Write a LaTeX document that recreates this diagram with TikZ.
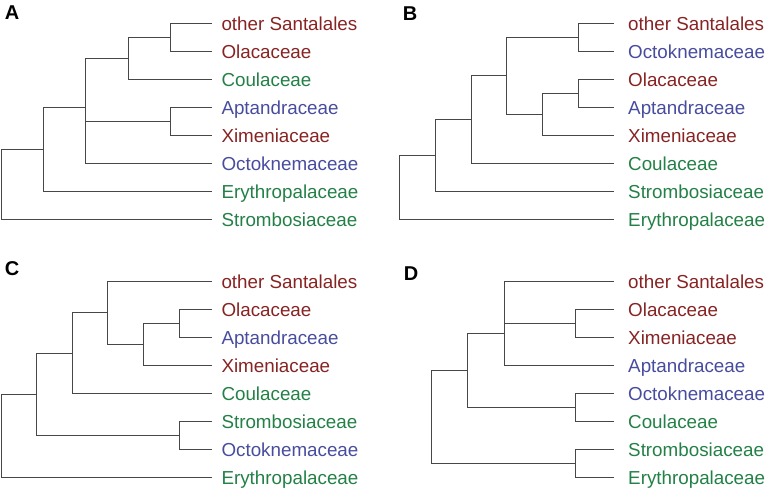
\documentclass[tikz,border=0pt]{standalone}
\usepackage{fontspec}
\setmainfont{Liberation Sans}
\usepackage{tikz}

\definecolor{famred}{RGB}{135,35,35}
\definecolor{famblue}{RGB}{72,76,158}
\definecolor{famgreen}{RGB}{35,128,70}

\begin{document}
\begin{tikzpicture}[x=1pt, y=-1pt]
	\tikzstyle{branch} = [draw=black!72, line width=1pt, to path={|- (\tikztotarget)}]
	\tikzstyle{taxon} = [anchor=west, inner xsep=9pt, inner ysep=0pt, text height=13.4pt, text depth=0pt, font=\fontsize{18.8}{22}\selectfont]
	\tikzstyle{panel} = [inner sep=0pt, font=\fontsize{20}{24}\selectfont\bfseries]

	\useasboundingbox (0,0) rectangle (767,487);

	% A
	\begin{scope}
		\path
			node[panel] (labA) at (12,13) {A}
			coordinate (ra) at (1,184.5)
			coordinate (a1) at (43.3,149.6)
			coordinate (a2) at (85.8,107.7)
			coordinate (a3) at (128.4,58.4)
			coordinate (a4) at (170.8,37.4)
			coordinate (a5) at (170.8,121.4)
			node[taxon, famred] (aSant) at (212.3,23.4) {other Santalales}
			node[taxon, famred] (aOlac) at (212.3,51.4) {Olacaceae}
			node[taxon, famgreen] (aCoul) at (212.3,79.4) {Coulaceae}
			node[taxon, famblue] (aAptd) at (212.3,107.4) {Aptandraceae}
			node[taxon, famred] (aXime) at (212.3,135.4) {Ximeniaceae}
			node[taxon, famblue] (aOcto) at (212.3,163.4) {Octoknemaceae}
			node[taxon, famgreen] (aEryt) at (212.3,191.4) {Erythropalaceae}
			node[taxon, famgreen] (aStro) at (212.3,219.4) {Strombosiaceae}

			(ra) edge[branch] (a1)
			(ra) edge[branch] (aStro)
			(a1) edge[branch] (a2)
			(a1) edge[branch] (aEryt)
			(a2) edge[branch] (a3)
			(a2) edge[branch] (a5)
			(a2) edge[branch] (aOcto)
			(a3) edge[branch] (a4)
			(a3) edge[branch] (aCoul)
			(a4) edge[branch] (aSant)
			(a4) edge[branch] (aOlac)
			(a5) edge[branch] (aAptd)
			(a5) edge[branch] (aXime)
		;
	\end{scope}

	% B
	\begin{scope}[shift={(384,0)}, taxon/.append style={inner xsep=14pt}]
		\path
			node[panel] (labB) at (26,13.3) {B}
			coordinate (rb) at (15.3,187.5)
			coordinate (b1) at (51,155.5)
			coordinate (b2) at (87,119.7)
			coordinate (b3) at (122.7,75.9)
			coordinate (b4) at (158.7,114.4)
			coordinate (b5) at (194.3,37.4)
			coordinate (b6) at (194.3,93.4)
			node[taxon, famred] (bSant) at (230,23.4) {other Santalales}
			node[taxon, famblue] (bOcto) at (230,51.4) {Octoknemaceae}
			node[taxon, famred] (bOlac) at (230,79.4) {Olacaceae}
			node[taxon, famblue] (bAptd) at (230,107.4) {Aptandraceae}
			node[taxon, famred] (bXime) at (230,135.4) {Ximeniaceae}
			node[taxon, famgreen] (bCoul) at (230,163.4) {Coulaceae}
			node[taxon, famgreen] (bStro) at (230,191.4) {Strombosiaceae}
			node[taxon, famgreen] (bEryt) at (230,219.4) {Erythropalaceae}

			(rb) edge[branch] (b1)
			(rb) edge[branch] (bEryt)
			(b1) edge[branch] (b2)
			(b1) edge[branch] (bStro)
			(b2) edge[branch] (b3)
			(b2) edge[branch] (bCoul)
			(b3) edge[branch] (b5)
			(b3) edge[branch] (b4)
			(b4) edge[branch] (b6)
			(b4) edge[branch] (bXime)
			(b5) edge[branch] (bSant)
			(b5) edge[branch] (bOcto)
			(b6) edge[branch] (bOlac)
			(b6) edge[branch] (bAptd)
		;
	\end{scope}

	% C
	\begin{scope}[shift={(0,258)}]
		\path
			node[panel] (labC) at (12,10.7) {C}
			coordinate (rc) at (1,177.9)
			coordinate (c1) at (36,136.3)
			coordinate (c2) at (72.3,95.2)
			coordinate (c3) at (107.7,54.9)
			coordinate (c4) at (143.7,86.4)
			coordinate (c5) at (179.7,65.4)
			coordinate (c6) at (179.7,177.4)
			node[taxon, famred] (cSant) at (212.3,23.4) {other Santalales}
			node[taxon, famred] (cOlac) at (212.3,51.4) {Olacaceae}
			node[taxon, famblue] (cAptd) at (212.3,79.4) {Aptandraceae}
			node[taxon, famred] (cXime) at (212.3,107.4) {Ximeniaceae}
			node[taxon, famgreen] (cCoul) at (212.3,135.4) {Coulaceae}
			node[taxon, famgreen] (cStro) at (212.3,163.4) {Strombosiaceae}
			node[taxon, famblue] (cOcto) at (212.3,191.4) {Octoknemaceae}
			node[taxon, famgreen] (cEryt) at (212.3,219.4) {Erythropalaceae}

			(rc) edge[branch] (c1)
			(rc) edge[branch] (cEryt)
			(c1) edge[branch] (c2)
			(c1) edge[branch] (c6)
			(c2) edge[branch] (c3)
			(c2) edge[branch] (cCoul)
			(c3) edge[branch] (cSant)
			(c3) edge[branch] (c4)
			(c4) edge[branch] (c5)
			(c4) edge[branch] (cXime)
			(c5) edge[branch] (cOlac)
			(c5) edge[branch] (cAptd)
			(c6) edge[branch] (cStro)
			(c6) edge[branch] (cOcto)
		;
	\end{scope}

	% D
	\begin{scope}[shift={(384,258)}, taxon/.append style={inner xsep=14pt}]
		\path
			node[panel] (labD) at (27,16) {D}
			coordinate (rd) at (47.7,158.9)
			coordinate (d1) at (83.7,112.4)
			coordinate (d2) at (120.3,75.3)
			coordinate (d3) at (191.7,65.4)
			coordinate (d4) at (191.7,149.4)
			coordinate (d5) at (191.7,205.4)
			node[taxon, famred] (dSant) at (230,23.4) {other Santalales}
			node[taxon, famred] (dOlac) at (230,51.4) {Olacaceae}
			node[taxon, famred] (dXime) at (230,79.4) {Ximeniaceae}
			node[taxon, famblue] (dAptd) at (230,107.4) {Aptandraceae}
			node[taxon, famblue] (dOcto) at (230,135.4) {Octoknemaceae}
			node[taxon, famgreen] (dCoul) at (230,163.4) {Coulaceae}
			node[taxon, famgreen] (dStro) at (230,191.4) {Strombosiaceae}
			node[taxon, famgreen] (dEryt) at (230,219.4) {Erythropalaceae}

			(rd) edge[branch] (d1)
			(rd) edge[branch] (d5)
			(d1) edge[branch] (d2)
			(d1) edge[branch] (d4)
			(d2) edge[branch] (dSant)
			(d2) edge[branch] (d3)
			(d2) edge[branch] (dAptd)
			(d3) edge[branch] (dOlac)
			(d3) edge[branch] (dXime)
			(d4) edge[branch] (dOcto)
			(d4) edge[branch] (dCoul)
			(d5) edge[branch] (dStro)
			(d5) edge[branch] (dEryt)
		;
	\end{scope}
\end{tikzpicture}
\end{document}
